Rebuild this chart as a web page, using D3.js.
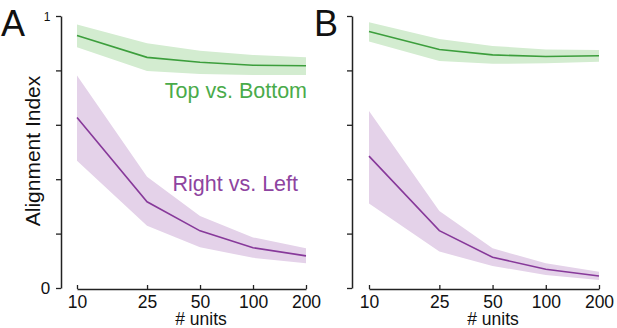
<!DOCTYPE html>
<html><head><meta charset="utf-8">
<script src="https://cdn.jsdelivr.net/npm/d3@7"></script>
<style>body{margin:0;background:#fff}svg{display:block;font-family:"Liberation Sans",Arial,sans-serif}</style>
</head><body>
<svg id="c" width="617" height="328"></svg>
<script>
const units = [10, 25, 50, 100, 200];
const xTickLabels = ["10", "25", "50", "100", "200"];
const yTicks = [0, 0.2, 0.4, 0.6, 0.8, 1];

// Panel A
const aTopMean = [0.928, 0.848, 0.830, 0.819, 0.817];
const aTopHi   = [0.969, 0.900, 0.872, 0.857, 0.848];
const aTopLo   = [0.885, 0.798, 0.787, 0.783, 0.783];
const aRightMean = [0.627, 0.317, 0.210, 0.148, 0.118];
const aRightHi   = [0.781, 0.409, 0.265, 0.186, 0.146];
const aRightLo   = [0.468, 0.229, 0.150, 0.111, 0.091];
// Panel B
const bTopMean = [0.943, 0.877, 0.857, 0.851, 0.854];
const bTopHi   = [0.977, 0.915, 0.890, 0.877, 0.875];
const bTopLo   = [0.906, 0.835, 0.824, 0.826, 0.832];
const bRightMean = [0.485, 0.211, 0.113, 0.069, 0.044];
const bRightHi   = [0.651, 0.283, 0.146, 0.091, 0.060];
const bRightLo   = [0.311, 0.134, 0.081, 0.048, 0.029];

const GREEN = "#3c9e3c", GREEN_BAND = "#d3ecd0", GREEN_TEXT = "#4aab4a";
const PURPLE = "#87399a", PURPLE_BAND = "#e4d2e9";
const AXIS = "#222";

const svg = d3.select("#c");

function panel(opt) {
  const g = svg.append("g");
  const x = d3.scaleLog().domain([10, 200]).range([opt.x0, opt.x1]);
  const y = d3.scaleLinear().domain([0, 1]).range([288, 16]);

  function band(mean, lo, hi, line, fill) {
    const pts = units.map((u, i) => ({u, m: mean[i], lo: lo[i], hi: hi[i]}));
    g.append("path").datum(pts)
      .attr("fill", fill)
      .attr("d", d3.area().x(d => x(d.u)).y0(d => y(d.lo)).y1(d => y(d.hi)));
    g.append("path").datum(pts)
      .attr("fill", "none").attr("stroke", line).attr("stroke-width", 1.6)
      .attr("d", d3.line().x(d => x(d.u)).y(d => y(d.m)));
  }
  band(opt.top[0], opt.top[1], opt.top[2], GREEN, GREEN_BAND);
  band(opt.right[0], opt.right[1], opt.right[2], PURPLE, PURPLE_BAND);

  // y axis
  const ya = g.append("g").attr("transform", `translate(${opt.yx},0)`)
    .call(d3.axisLeft(y).tickValues(yTicks).tickSize(5).tickSizeOuter(0).tickFormat(""));
  ya.select(".domain").attr("stroke", AXIS).attr("stroke-width", 1.5);
  ya.selectAll(".tick line").attr("stroke", AXIS).attr("stroke-width", 1.3);

  // x axis
  const xa = g.append("g").attr("transform", "translate(0,289)")
    .call(d3.axisBottom(x).tickValues(units).tickSize(-4).tickSizeOuter(0)
      .tickFormat((d, i) => xTickLabels[i]));
  xa.select(".domain").attr("stroke", AXIS).attr("stroke-width", 1.5);
  xa.selectAll(".tick line").attr("stroke", AXIS).attr("stroke-width", 1.3);
  xa.selectAll(".tick text").attr("y", 0).attr("dy", 18.8).attr("font-size", 17.5)
    .attr("font-family", "Liberation Sans, Arial, sans-serif").attr("fill", "#111");

  g.append("text").attr("x", opt.unitsX).attr("y", 325).attr("text-anchor", "middle")
    .attr("font-size", 17.5).attr("fill", "#111").text("# units");

  g.append("text").attr("x", opt.letterX).attr("y", 36)
    .attr("font-size", 36).attr("fill", "#111").text(opt.letter);
  return {x, y, g};
}

const A = panel({x0: 77, x1: 306, yx: 61, unitsX: 201, letter: "A", letterX: 1,
  top: [aTopMean, aTopLo, aTopHi], right: [aRightMean, aRightLo, aRightHi]});
const B = panel({x0: 369, x1: 599, yx: 352, unitsX: 493, letter: "B", letterX: 314,
  top: [bTopMean, bTopLo, bTopHi], right: [bRightMean, bRightLo, bRightHi]});

// y tick labels for panel A
svg.append("text").attr("x", 47).attr("y", 21).attr("text-anchor", "middle")
  .attr("font-size", 12).attr("fill", "#111").text("1");
svg.append("text").attr("x", 45.5).attr("y", 294).attr("text-anchor", "middle")
  .attr("font-size", 17).attr("fill", "#111").text("0");

// y axis title
svg.append("text").attr("transform", "translate(40,151) rotate(-90)")
  .attr("text-anchor", "middle").attr("font-size", 21).attr("fill", "#111")
  .text("Alignment Index");

// series labels
svg.append("text").attr("x", 307).attr("y", 98).attr("text-anchor", "end")
  .attr("font-size", 21.5).attr("fill", GREEN_TEXT).text("Top vs. Bottom");
svg.append("text").attr("x", 298).attr("y", 191).attr("text-anchor", "end")
  .attr("font-size", 21.5).attr("fill", "#8e44a0").text("Right vs. Left");
</script>
</body></html>
